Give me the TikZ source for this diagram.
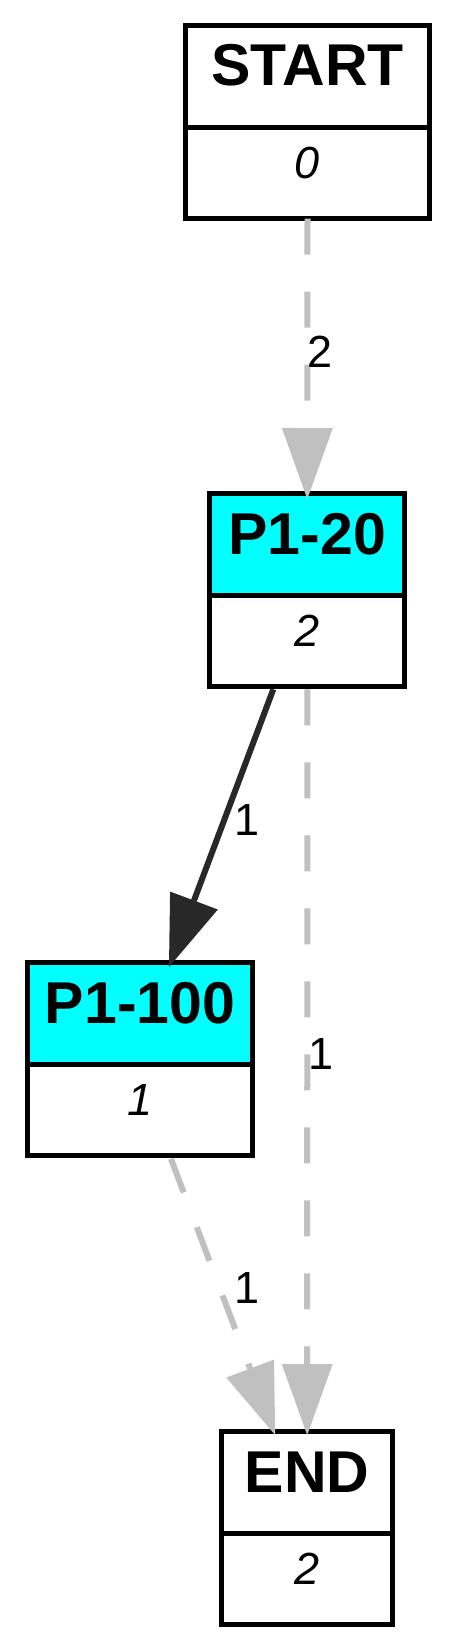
\documentclass[tikz,border=0pt]{standalone}
\usepackage{fontspec}
\setmainfont{Liberation Sans}
\usetikzlibrary{arrows.meta,calc}
\definecolor{edgegray}{HTML}{C0C0C0}
\definecolor{edgedark}{HTML}{282828}
\definecolor{boxcyan}{HTML}{00FFFF}
\begin{document}
\begin{tikzpicture}[x=1pt,y=-1pt,
  title/.style={draw=black, line width=5pt, inner sep=0pt, outer sep=0pt,
    text height=60.5pt, text depth=41.8pt, anchor=north,
    font=\bfseries\fontsize{59}{59}\selectfont},
  val/.style={draw=black, line width=5pt, inner sep=0pt, outer sep=0pt,
    text height=50.5pt, text depth=40.5pt, anchor=north, fill=white,
    font=\itshape\fontsize{45}{45}\selectfont},
  lab/.style={inner sep=0pt, font=\fontsize{45}{45}\selectfont},
  tip/.style={-{Triangle[length=71pt,width=51pt,line width=0pt]}},
  grayedge/.style={draw=edgegray, line width=6pt, dash pattern=on 36pt off 37pt, tip},
  darkedge/.style={draw=edgedark, line width=6pt, tip, -{Triangle[length=71pt,width=51pt,line width=0pt,fill=edgedark]}}
]
\useasboundingbox (0,0) rectangle (454,1650);
% START
\node[title, minimum width=243.4pt] (start) at (307.5,25.2) {START};
\node[val, minimum width=243.4pt] (startv) at (start.south) {0};
% P1-20
\node[title, fill=boxcyan, minimum width=195pt] (p20) at (307.3,493.5) {P1-20};
\node[val, minimum width=195pt] (p20v) at (p20.south) {2};
% P1-100
\node[title, fill=boxcyan, minimum width=225pt] (p100) at (140,962.5) {P1-100};
\node[val, minimum width=225pt] (p100v) at (p100.south) {1};
% END
\node[title, minimum width=170.7pt] (endn) at (307.2,1431.5) {END};
\node[val, minimum width=170.7pt] (endv) at (endn.south) {2};
% edges
\draw[grayedge] (startv.south) -- ($(p20.north)+(0,5.5)$);
\draw[darkedge] ($(p20v.south)+(-34,2.5)$) -- ($(p100.north)+(29,4.5)$);
\draw[grayedge] ($(p20v.south)+(0,2.5)$) -- ($(endn.north)+(0,3.5)$);
\draw[grayedge] ($(p100v.south)+(31,3)$) -- ($(endn.north)+(-32,3.5)$);
% edge labels
\node[lab] (l1) at (320,351.5) {2};
\node[lab] (l2) at (247.5,820.5) {1};
\node[lab] (l3) at (321,1054.5) {1};
\node[lab] (l4) at (247.5,1288.5) {1};
\end{tikzpicture}
\end{document}
